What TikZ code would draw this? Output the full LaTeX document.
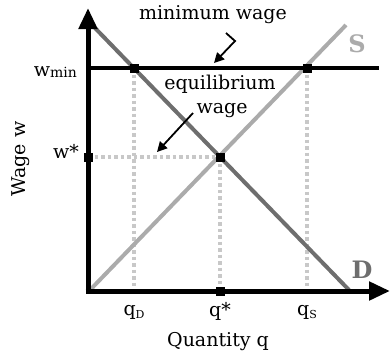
\documentclass[tikz,border=0pt]{standalone}
\usepackage{fontspec}
\setmainfont{DejaVu Serif}
\usetikzlibrary{arrows.meta}
\definecolor{dgray}{HTML}{6E6E6E}
\definecolor{lgray}{HTML}{ABABAB}
\definecolor{dotgray}{HTML}{C8C8C8}

\begin{document}
\begin{tikzpicture}[
        x=1pt, y=-1pt,
        font=\fontsize{19}{21}\selectfont,
        axis/.style={line width=5pt, -{Triangle[length=21pt, width=18pt]}},
        curve/.style={line width=4pt},
        guide/.style={dotgray, line width=3.2pt, dash pattern=on 3.5pt off 3pt},
        pt/.style={fill=black, minimum size=9pt, inner sep=0pt, rectangle},
        note/.style={-{Triangle[length=10pt, width=10pt]}, line width=1.8pt},
        lbl/.style={inner sep=1pt},
    ]
        \useasboundingbox (0,0) rectangle (390,354);
        \coordinate (O)    at (88,291);
        \coordinate (ytip) at (88,8);
        \coordinate (xtip) at (390,291);
        \coordinate (wl)   at (91,68);
        \coordinate (wr)   at (379,68);
        \coordinate (dtop) at (95,28);
        \coordinate (dbot) at (349,290);
        \coordinate (sbot) at (91,289);
        \coordinate (stop) at (346,25);
        \coordinate (qs0)  at (134,291);
        \coordinate (qe0)  at (220,291);
        \coordinate (qs1)  at (307,291);
        \coordinate (we0)  at (88,157);

        \draw[guide] (134,68) -- (qs0);
        \draw[guide] (307,68) -- (qs1);
        \draw[guide] (220,157) -- (qe0);
        \draw[guide] (we0) -- (220,157);

        \draw[curve, lgray] (sbot) -- (stop);
        \draw[curve, dgray] (dtop) -- (dbot);
        \draw[line width=4.5pt] (wl) -- (wr);

        \draw[axis] (85.5,291) -- (xtip);
        \draw[axis] (88,293.5) -- (ytip);

        \node[pt] (pD) at (134,68) {};
        \node[pt] (pS) at (307,68) {};
        \node[pt] (pE) at (220,157) {};
        \node[pt] (pW) at (we0) {};
        \node[pt] (pQ) at (qe0) {};

        \node[lbl] (minw)  at (213,15)  {minimum wage};
        \node[lbl] (equil) at (220,84)  {equilibrium};
        \node[lbl] (ewage) at (222,111) {wage};
        \node[lbl, lgray, font=\fontsize{24}{26}\selectfont\bfseries] (sl) at (357,44) {S};
        \node[lbl, dgray, font=\fontsize{24}{26}\selectfont\bfseries] (dl) at (362,270) {D};

        \node[lbl, anchor=east] (wmin) at (78,72) {w\raisebox{-1pt}{\fontsize{14}{15}\selectfont min}};
        \node[lbl, anchor=east] (wstar) at (80,151) {w*};
        \node[lbl] (qD) at (134,312) {q\raisebox{-3pt}{\fontsize{11}{12}\selectfont D}};
        \node[lbl] (qE) at (220,311) {q*};
        \node[lbl] (qS) at (307,312) {q\raisebox{-3pt}{\fontsize{11}{12}\selectfont S}};
        \node[lbl] (xl) at (218,342) {Quantity q};
        \node[lbl, rotate=90] (yl) at (21,159) {Wage w};

        \coordinate (k1) at (226,33);
        \coordinate (k2) at (235,41);
        \coordinate (k3) at (214,63);
        \draw[note] (k1) -- (k2) -- (k3);
        \coordinate (e1) at (193,113);
        \coordinate (e2) at (157,152);
        \draw[note] (e1) -- (e2);
    \end{tikzpicture}
\end{document}
